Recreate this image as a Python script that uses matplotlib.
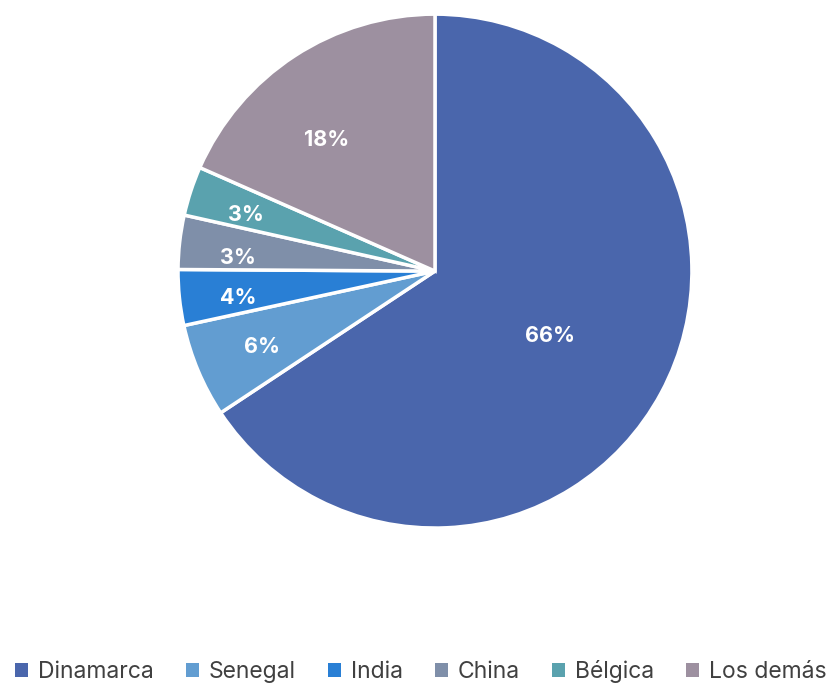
import numpy as np
import matplotlib.pyplot as plt
from matplotlib.patches import Patch

labels = ['Dinamarca', 'Senegal', 'India', 'China', 'Bélgica', 'Los demás']
values = [65.7, 5.9, 3.5, 3.4, 3.1, 18.4]
pct_text = ['66%', '6%', '4%', '3%', '3%', '18%']
colors = ['#4A66AC', '#629DD1', '#297FD5', '#7F8FA9', '#5AA2AE', '#9D90A0']
label_dist = [0.51, 0.73, 0.77, 0.77, 0.77, 0.67]
label_shift = [0, 0, 1, 2, 1, 6]  # degrees, counterclockwise nudge

plt.rcParams['font.family'] = ['Inter', 'DejaVu Sans']

fig = plt.figure(figsize=(8.29, 6.87), dpi=100)
ax = fig.add_axes([0.2147, 0.2314, 0.620, 0.748])
wedges, _ = ax.pie(values, colors=colors, startangle=90, counterclock=False,
                   radius=1, wedgeprops=dict(edgecolor='white', linewidth=2.5))
ax.set_xlim(-1, 1)
ax.set_ylim(-1, 1)
ax.set_aspect('equal')

for w, t, d, s in zip(wedges, pct_text, label_dist, label_shift):
    ang = np.deg2rad((w.theta1 + w.theta2) / 2 + s)
    ax.text(d * np.cos(ang), d * np.sin(ang) - 0.01, t, color='white', fontsize=15.5,
            fontweight='bold', ha='center', va='center')

handles = [Patch(facecolor=c, edgecolor='none') for c in colors]
fig.legend(handles, labels, loc='center', bbox_to_anchor=(0.508, 0.022), ncol=6,
           frameon=False, fontsize=16.5, handlelength=0.55, handleheight=0.55,
           handletextpad=0.45, columnspacing=1.4, labelcolor='#404040')

fig.savefig('out.png', dpi=100)
